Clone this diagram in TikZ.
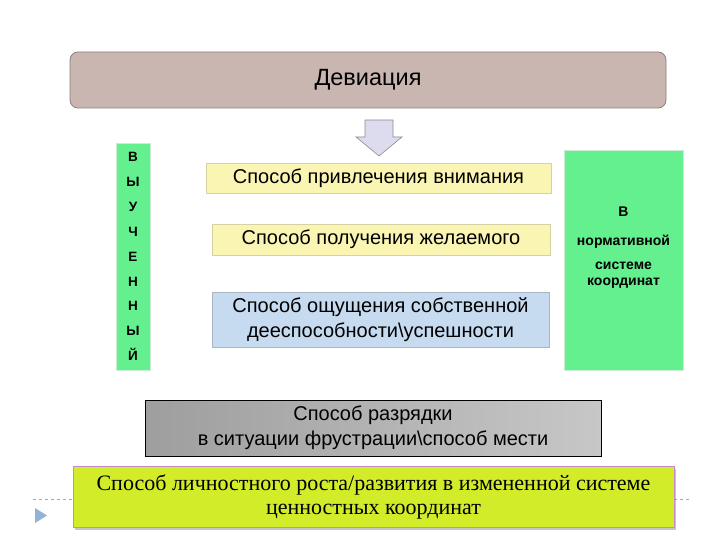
\documentclass[tikz,border=0pt]{standalone}
\usepackage{fontspec}
\setmainfont{Liberation Sans}
\newfontfamily\serifru{Liberation Serif}
\usetikzlibrary{shadows}
\definecolor{topfill}{HTML}{C9B6B1}
\definecolor{topborder}{HTML}{8C807C}
\definecolor{greenfill}{HTML}{64F08E}
\definecolor{yellowfill}{HTML}{FBF5B4}
\definecolor{bluefill}{HTML}{C6DAF0}
\definecolor{limefill}{HTML}{D2EC2A}
\definecolor{arrowfill}{HTML}{DCDCEE}
\definecolor{tribl}{HTML}{8FB4D6}
\tikzset{
  topbox/.style={draw=topborder, fill=topfill, rounded corners=8pt, line width=0.8pt,
    minimum width=596pt, minimum height=56pt, font=\fontsize{23.5}{28}\selectfont},
  greenbar/.style={fill=greenfill, draw=greenfill!80!black!30!white, line width=0.4pt},
  lighttext/.style={font=\fontsize{20}{25}\selectfont, align=center},
  ybox/.style={fill=yellowfill, draw=yellowfill!70!gray, line width=0.4pt, lighttext},
  bbox/.style={fill=bluefill, draw=bluefill!60!gray, line width=0.4pt, lighttext},
  graybox/.style={left color=black!38, right color=black!22, draw=black, line width=0.8pt,
    lighttext},
  limebox/.style={fill=limefill, draw=violet!45, line width=0.8pt,
    drop shadow={shadow xshift=2pt, shadow yshift=-3pt, fill=black!45},
    font=\serifru\fontsize{22}{24}\selectfont, align=center},
  smallbold/.style={font=\bfseries\fontsize{14}{16}\selectfont, align=center},
  deco/.style={draw=black!35, dashed, line width=0.4pt}
}
\begin{document}
\begin{tikzpicture}[x=1pt,y=-1pt, every node/.style={inner sep=0pt, outer sep=0pt}]
\useasboundingbox (0,0) rectangle (720,540);
\fill[white] (0,0) rectangle (720,540);

% top box
\node[topbox] (dev) at (368,80) {Девиация};

% block arrow
\draw[draw=black!45, fill=arrowfill, line width=0.6pt]
  (365,120) -- (393,120) -- (393,137) -- (402,137) -- (379,156) -- (356,137) -- (365,137) -- cycle;

% left green bar
\node[greenbar, minimum width=34pt, minimum height=227pt] (lbar) at (133,256.5) {};
\node[smallbold, font=\bfseries\fontsize{13.5}{24.9}\selectfont] (ltext) at (lbar.center)
  {В\\Ы\\У\\Ч\\Е\\Н\\Н\\Ы\\Й};

% middle boxes
\node[ybox, minimum width=345pt, minimum height=30pt] (b1) at (378.5,178) {Способ привлечения внимания};
\node[ybox, minimum width=338pt, minimum height=31pt] (b2) at (381,239.5) {Способ получения желаемого};
\node[bbox, minimum width=337pt, minimum height=55pt] (b3) at (380.5,319.5)
  {Способ ощущения собственной\\дееспособности\textbackslash успешности};

% right green box
\node[greenbar, minimum width=119pt, minimum height=220pt] (rbox) at (623.5,260) {};
\node[smallbold] (rtext) at (623.5,248)
  {В\\[13pt]нормативной\\[8pt]системе\\координат};

% gray box
\node[graybox, minimum width=456pt, minimum height=56pt] (gbox) at (373,428)
  {Способ разрядки\\в ситуации фрустрации\textbackslash способ мести};

% decorative dashed line and triangle
\coordinate (dl1) at (33,499);
\coordinate (dr2) at (690,499);
\draw[deco] (dl1) -- (73,499);
\draw[deco] (674,499) -- (dr2);
\fill[tribl] (35,508) -- (47,515.5) -- (35,523) -- cycle;

% bottom lime box
\node[limebox, minimum width=601pt, minimum height=61pt] (lbox) at (373.5,496.5)
  {Способ личностного роста/развития в измененной системе\\ценностных координат};
\end{tikzpicture}
\end{document}
